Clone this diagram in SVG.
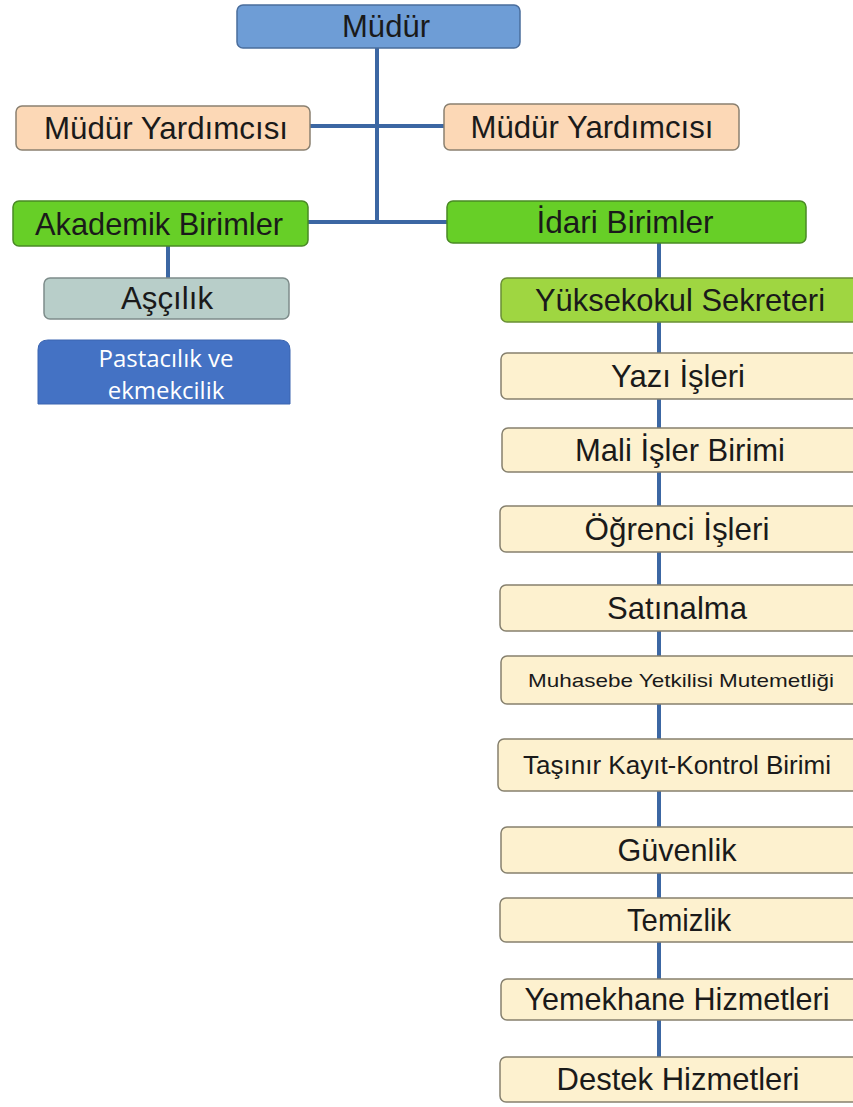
<svg xmlns="http://www.w3.org/2000/svg" width="853" height="1107" viewBox="0 0 853 1107">
<style>
.n{stroke-width:1.5}
.t{font-family:"Liberation Sans",Arial,sans-serif;font-size:32px;fill:#1a1a1a;text-anchor:middle}
.blue{fill:#6e9dd6;stroke:#4a6d9c}
.peach{fill:#fcd8b6;stroke:#8a8070}
.green{fill:#67cf27;stroke:#4a8a25}
.lgreen{fill:#9fd641;stroke:#6a8f35}
.gray{fill:#b8cec9;stroke:#7d8c8a}
.cream{fill:#fdf1cf;stroke:#86806e}
.c{stroke:#3c67a3;stroke-width:4;fill:none}
.p{font-family:"Open Sans","Noto Sans",sans-serif;font-size:24px;fill:#ffffff;text-anchor:middle}
</style>
<rect width="853" height="1107" fill="#ffffff"/>
<g id="connectors">
<line class="c" x1="377" y1="48" x2="377" y2="222"/>
<line class="c" x1="310" y1="126" x2="444" y2="126" stroke-width="5"/>
<line class="c" x1="308" y1="222" x2="447" y2="222" stroke-width="5"/>
<line class="c" x1="168" y1="246" x2="168" y2="278"/>
<line class="c" x1="659" y1="243" x2="659" y2="1057"/>
</g>
<g id="mudur"><rect class="n blue" x="237" y="5" width="283" height="43" rx="6"/><text class="t" x="386" y="37" textLength="88" lengthAdjust="spacingAndGlyphs">Müdür</text></g>
<g id="yard1"><rect class="n peach" x="16" y="106" width="294" height="44" rx="6"/><text class="t" x="166" y="139" textLength="244" lengthAdjust="spacingAndGlyphs">Müdür Yardımcısı</text></g>
<g id="yard2"><rect class="n peach" x="444" y="104" width="295" height="46" rx="6"/><text class="t" x="592" y="138" textLength="243" lengthAdjust="spacingAndGlyphs">Müdür Yardımcısı</text></g>
<g id="akademik"><rect class="n green" x="13" y="201" width="295" height="45" rx="6"/><text class="t" x="159" y="235" textLength="248" lengthAdjust="spacingAndGlyphs">Akademik Birimler</text></g>
<g id="idari"><rect class="n green" x="447" y="201" width="359" height="42" rx="6"/><text class="t" x="625" y="233" textLength="177" lengthAdjust="spacingAndGlyphs">İdari Birimler</text></g>
<g id="ascilik"><rect class="n gray" x="44" y="278" width="245" height="41" rx="6"/><text class="t" x="167" y="309" textLength="92" lengthAdjust="spacingAndGlyphs">Aşçılık</text></g>
<g id="pastacilik"><path d="M38 404 V350 Q38 340 48 340 H280 Q290 340 290 350 V404 Z" fill="#4472c4" stroke="#3a64b0" stroke-width="1"/><text class="p" x="166" y="367">Pastacılık ve</text><text class="p" x="166" y="399">ekmekcilik</text></g>
<g id="yuksekokul"><rect class="n lgreen" x="501" y="278" width="360" height="44" rx="6"/><text class="t" x="680" y="311" textLength="290" lengthAdjust="spacingAndGlyphs">Yüksekokul Sekreteri</text></g>
<g id="yazi"><rect class="n cream" x="501" y="353" width="360" height="46" rx="6"/><text class="t" x="678" y="387" textLength="134" lengthAdjust="spacingAndGlyphs">Yazı İşleri</text></g>
<g id="mali"><rect class="n cream" x="502" y="428" width="360" height="44" rx="6"/><text class="t" x="680" y="461" textLength="210" lengthAdjust="spacingAndGlyphs">Mali İşler Birimi</text></g>
<g id="ogrenci"><rect class="n cream" x="500" y="506" width="360" height="46" rx="6"/><text class="t" x="677" y="540" textLength="185" lengthAdjust="spacingAndGlyphs">Öğrenci İşleri</text></g>
<g id="satinalma"><rect class="n cream" x="500" y="585" width="360" height="46" rx="6"/><text class="t" x="677" y="619" textLength="140" lengthAdjust="spacingAndGlyphs">Satınalma</text></g>
<g id="muhasebe"><rect class="n cream" x="501" y="656" width="360" height="48" rx="6"/><text class="t" x="681" y="687" style="font-size:19px" textLength="306" lengthAdjust="spacingAndGlyphs">Muhasebe Yetkilisi Mutemetliği</text></g>
<g id="tasinir"><rect class="n cream" x="498" y="739" width="362" height="52" rx="6"/><text class="t" x="677" y="774" style="font-size:25px" textLength="308" lengthAdjust="spacingAndGlyphs">Taşınır Kayıt-Kontrol Birimi</text></g>
<g id="guvenlik"><rect class="n cream" x="501" y="827" width="360" height="46" rx="6"/><text class="t" x="677" y="861" textLength="119" lengthAdjust="spacingAndGlyphs">Güvenlik</text></g>
<g id="temizlik"><rect class="n cream" x="500" y="898" width="360" height="44" rx="6"/><text class="t" x="679" y="931" textLength="104" lengthAdjust="spacingAndGlyphs">Temizlik</text></g>
<g id="yemekhane"><rect class="n cream" x="501" y="979" width="360" height="41" rx="6"/><text class="t" x="677" y="1010" textLength="305" lengthAdjust="spacingAndGlyphs">Yemekhane Hizmetleri</text></g>
<g id="destek"><rect class="n cream" x="500" y="1057" width="360" height="45" rx="6"/><text class="t" x="678" y="1090" textLength="243" lengthAdjust="spacingAndGlyphs">Destek Hizmetleri</text></g>
</svg>
